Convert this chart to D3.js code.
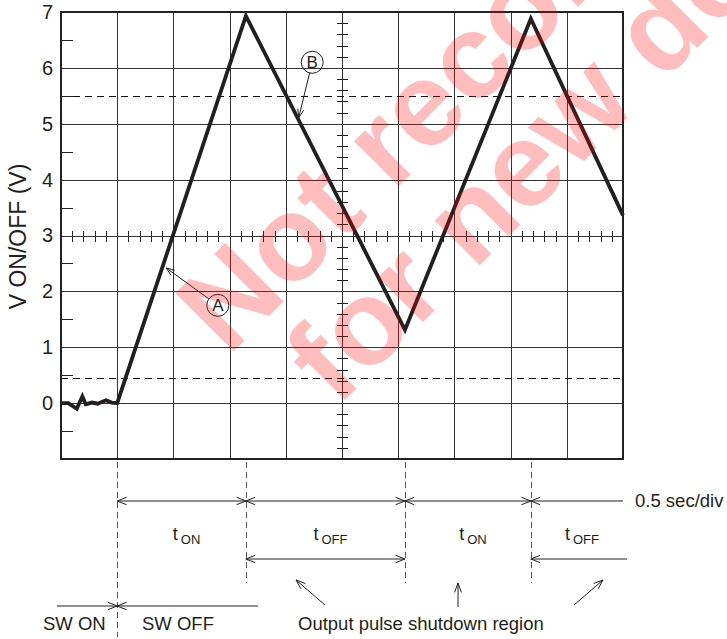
<!DOCTYPE html>
<html>
<head>
<meta charset="utf-8">
<script src="https://cdn.jsdelivr.net/npm/d3@7/dist/d3.min.js"></script>
<style>
    body { margin: 0; background: #fff; }
    svg { display: block; font-family: "Liberation Sans", Arial, sans-serif; }
    .grid line { stroke: #333; stroke-width: 1; shape-rendering: crispEdges; }
    .dashed line { stroke: #111; stroke-dasharray: 7,5; shape-rendering: crispEdges; }
    .minor line { stroke: #222; stroke-width: 1; shape-rendering: crispEdges; }
    .wave { fill: none; stroke: #231f20; stroke-width: 3.8; stroke-linejoin: miter; }
    .ann path, .ann line { fill: none; stroke: #231f20; stroke-width: 1; }
    .events line { stroke: #555; stroke-dasharray: 6,4; }
    text { fill: #231f20; }
</style>
</head>
<body>
<svg id="svg" width="727" height="639"></svg>
<script>

// Scope trace (time in divisions, 0.5 sec/div; voltage in V)
var waveTime  = [0, 0.13, 0.28, 0.38, 0.44, 0.55, 0.65, 0.80, 0.90, 1.00, 3.29, 6.12, 8.36, 10.0];
var waveVolts = [0, 0, -0.10, 0.12, -0.02, 0.01, -0.01, 0.05, 0.01, 0, 6.93, 1.31, 6.88, 3.36];

var yTicks = [0, 1, 2, 3, 4, 5, 6, 7];
var dashedLevels = [5.5, 0.45];

// switch events: SW OFF, first peak, trough, second peak
var eventTimes = [1.00, 3.29, 6.12, 8.36];
var phaseLabels = ["ON", "OFF", "ON", "OFF"];

// callouts: label, circle (t, V), arrow tip (t, V)
var calloutNames = ["A", "B"];
var calloutCircle = [[2.79, 1.75], [4.47, 6.10]];
var calloutTip = [[1.87, 2.42], [4.23, 5.11]];

var watermarkLines = ["Not recommended", "for new designs"];

var svg = d3.select("#svg");

var x = d3.scaleLinear().domain([0, 10]).range([61, 623]);
var y = d3.scaleLinear().domain([-1, 7]).range([459, 12]);

function px(v) { return Math.round(v) + 0.5; }

//Graticule: one line for every division.
var grid = svg.append("g").attr("class", "grid");
grid.selectAll(".v").data(d3.range(1, 10)).enter().append("line")
    .attr("x1", function(d) { return px(x(d)); })
    .attr("x2", function(d) { return px(x(d)); })
    .attr("y1", y(7)).attr("y2", y(-1));
grid.selectAll(".h").data(d3.range(0, 7)).enter().append("line")
    .attr("x1", x(0)).attr("x2", x(10))
    .attr("y1", function(d) { return px(y(d)); })
    .attr("y2", function(d) { return px(y(d)); });

//Dashed reference levels.
svg.append("g").attr("class", "dashed").selectAll("line")
    .data(dashedLevels).enter().append("line")
    .attr("x1", x(0)).attr("x2", x(10))
    .attr("y1", function(d) { return px(y(d)); })
    .attr("y2", function(d) { return px(y(d)); });

//Minor ticks: left edge, centre horizontal and centre vertical lines.
var minor = svg.append("g").attr("class", "minor");
minor.selectAll(".l").data(d3.range(-0.5, 7, 1)).enter().append("line")
    .attr("x1", x(0)).attr("x2", x(0) + 12)
    .attr("y1", function(d) { return px(y(d)); })
    .attr("y2", function(d) { return px(y(d)); });
minor.selectAll(".c").data(d3.range(0, 50).filter(function(i) { return i % 5 != 0; })).enter().append("line")
    .attr("x1", function(i) { return px(x(i / 5)); })
    .attr("x2", function(i) { return px(x(i / 5)); })
    .attr("y1", y(3) - 5).attr("y2", y(3) + 6);
minor.selectAll(".m").data(d3.range(-5, 35).filter(function(i) { return i % 5 != 0; })).enter().append("line")
    .attr("x1", x(5) - 5).attr("x2", x(5) + 6)
    .attr("y1", function(i) { return px(y(i / 5)); })
    .attr("y2", function(i) { return px(y(i / 5)); });

//Frame.
svg.append("rect")
    .attr("x", x(0)).attr("y", y(7))
    .attr("width", x(10) - x(0)).attr("height", y(-1) - y(7))
    .attr("fill", "none").attr("stroke", "#222").attr("stroke-width", 2);

//Y axis labels.
var yAxis = svg.append("g")
    .attr("transform", "translate(" + x(0) + ",0)")
    .call(d3.axisLeft(y).tickValues(yTicks).tickSize(0).tickPadding(8).tickFormat(d3.format("d")));
yAxis.select(".domain").remove();
yAxis.selectAll("text").attr("font-size", 20).attr("font-family", "Liberation Sans, Arial, sans-serif").attr("fill", "#231f20");

svg.append("text")
    .attr("transform", "translate(26," + (y(3) + 1) + ") rotate(-90)")
    .attr("text-anchor", "middle")
    .attr("font-size", 23)
    .text("V ON/OFF (V)");

//The trace.
var line = d3.line()
    .x(function(d, i) { return x(waveTime[i]); })
    .y(function(d, i) { return y(waveVolts[i]); });
svg.append("path").attr("class", "wave").attr("d", line(waveVolts));

// open arrow head: two short strokes behind the tip
function arrowHead(g, x1, y1, x2, y2, len, spread) {
    var a = Math.atan2(y2 - y1, x2 - x1);
    var p = [a - spread, a + spread].map(function(b) {
        return [x2 - len * Math.cos(b), y2 - len * Math.sin(b)];
    });
    g.append("path").attr("d", "M" + p[0] + "L" + x2 + "," + y2 + "L" + p[1]);
}

//Callouts A and B.
var ann = svg.append("g").attr("class", "ann");
calloutNames.forEach(function(name, i) {
    var cx = x(calloutCircle[i][0]), cy = y(calloutCircle[i][1]);
    var tx = x(calloutTip[i][0]), ty = y(calloutTip[i][1]);
    var a = Math.atan2(ty - cy, tx - cx);
    var sx = cx + 11 * Math.cos(a), sy = cy + 11 * Math.sin(a);
    ann.append("circle").attr("cx", cx).attr("cy", cy).attr("r", 11);
    ann.append("line").attr("x1", sx).attr("y1", sy).attr("x2", tx).attr("y2", ty);
    arrowHead(ann, sx, sy, tx, ty, 9, 0.35);
    ann.append("text").attr("x", cx).attr("y", cy).attr("dy", "0.36em")
        .attr("text-anchor", "middle").attr("font-size", 17).attr("stroke", "none").text(name);
});
ann.selectAll("circle").attr("fill", "none").attr("stroke", "#231f20");

//Timing annotations below the graticule.
var ev = svg.append("g").attr("class", "events");
ev.selectAll("line").data(eventTimes).enter().append("line")
    .attr("x1", function(d) { return px(x(d)); })
    .attr("x2", function(d) { return px(x(d)); })
    .attr("y1", 462)
    .attr("y2", function(d, i) { return i == 0 ? 637 : 583; });

var row1 = 501, row2 = 559, row3 = 606;
var tm = svg.append("g").attr("class", "ann");
tm.append("line").attr("x1", x(eventTimes[0])).attr("x2", x(10)).attr("y1", row1).attr("y2", row1);
eventTimes.forEach(function(t, i) {
    arrowHead(tm, x(t) + 20, row1, x(t), row1, 10, 0.38);
    if (i > 0) arrowHead(tm, x(t) - 20, row1, x(t), row1, 10, 0.38);
});
tm.append("line").attr("x1", x(eventTimes[1])).attr("x2", x(eventTimes[2])).attr("y1", row2).attr("y2", row2);
arrowHead(tm, x(eventTimes[1]) + 20, row2, x(eventTimes[1]), row2, 10, 0.38);
arrowHead(tm, x(eventTimes[2]) - 20, row2, x(eventTimes[2]), row2, 10, 0.38);
tm.append("line").attr("x1", x(eventTimes[3])).attr("x2", x(10) + 4).attr("y1", row2).attr("y2", row2);
arrowHead(tm, x(eventTimes[3]) + 20, row2, x(eventTimes[3]), row2, 10, 0.38);

tm.append("line").attr("x1", 57).attr("x2", 258).attr("y1", row3).attr("y2", row3);
arrowHead(tm, x(eventTimes[0]) + 20, row3, x(eventTimes[0]), row3, 10, 0.38);
arrowHead(tm, x(eventTimes[0]) - 20, row3, x(eventTimes[0]), row3, 10, 0.38);

svg.append("text").attr("x", 635).attr("y", row1 + 6).attr("font-size", 18.5).text("0.5 sec/div");

//t ON / t OFF labels, centred in each interval.
var bounds = eventTimes.concat([10]);
phaseLabels.forEach(function(sub, i) {
    var mid = (x(bounds[i]) + x(bounds[i + 1])) / 2 + 5;
    var t = svg.append("text").attr("x", mid).attr("y", 540).attr("text-anchor", "middle");
    t.append("tspan").attr("font-size", 18).text("t");
    t.append("tspan").attr("font-size", 13).attr("dx", 3).attr("dy", 4).text(sub);
});

svg.append("text").attr("x", 43).attr("y", 630).attr("font-size", 18.5).text("SW ON");
svg.append("text").attr("x", 142).attr("y", 630).attr("font-size", 18.5).text("SW OFF");
svg.append("text").attr("x", 298).attr("y", 630).attr("font-size", 18.5).text("Output pulse shutdown region");

// arrows from the caption up to the shutdown intervals
[[325, 605, 296, 580], [458, 607, 458, 583], [574, 605, 603, 580]].forEach(function(a) {
    tm.append("line").attr("x1", a[0]).attr("y1", a[1]).attr("x2", a[2]).attr("y2", a[3]);
    arrowHead(tm, a[0], a[1], a[2], a[3], 10, 0.35);
});

//Watermark.
var wm = svg.append("g")
    .attr("fill", "#ff0000").attr("fill-opacity", 0.26)
    .attr("font-weight", "bold").attr("font-size", 120);
wm.append("text").attr("transform", "translate(228,357) rotate(-45)").style("fill", "#ff0000").text(watermarkLines[0]);
wm.append("text").attr("transform", "translate(337,408) rotate(-45)").style("fill", "#ff0000").text(watermarkLines[1]);

</script>
</body>
</html>
